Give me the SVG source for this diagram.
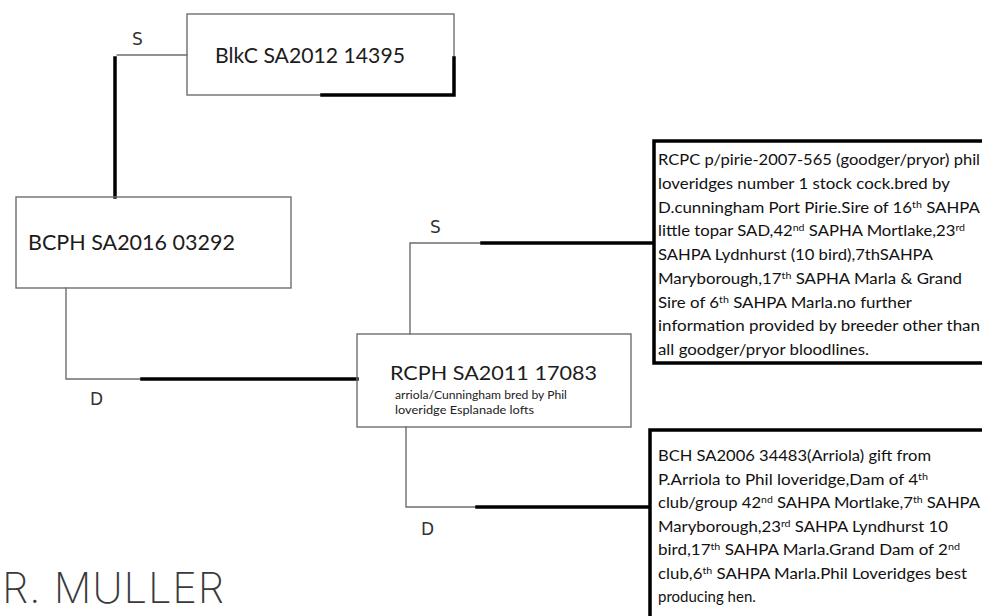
<svg xmlns="http://www.w3.org/2000/svg" width="982" height="616" viewBox="0 0 982 616">
<style>
.pen{fill:none;stroke:#6e6e6e;stroke-width:1.4;stroke-linecap:round}
.thick{fill:none;stroke:#000;stroke-width:3.5;stroke-linecap:square}
.bold-box{fill:#fff;stroke:#000;stroke-width:3.5}
.name{font-family:Lato,"Liberation Sans",sans-serif;fill:#1c1c1c}
.body{font-family:Lato,"Liberation Sans",sans-serif;font-size:15px;fill:#111}
.small{font-family:Lato,"Liberation Sans",sans-serif;font-size:11px;fill:#222}
.hand{font-family:"DejaVu Sans","Liberation Sans",sans-serif;font-size:17px;fill:#333}
.sig{font-family:Inter,Lato,"Liberation Sans",sans-serif;font-weight:200;font-size:42px;fill:#3a3a3a}
</style>
<rect width="982" height="616" fill="#fff"/>

<g id="connectors">
  <!-- Sire of BCPH -->
  <polyline class="pen" points="117,55 187,55"/>
  <line class="thick" x1="115" y1="58" x2="115" y2="197"/>
  <!-- Dam of BCPH -->
  <polyline class="pen" points="66,288 66,379 142,379"/>
  <line class="thick" x1="142" y1="379" x2="357" y2="379"/>
  <!-- Sire of RCPH -->
  <polyline class="pen" points="410,334 410,243 482,243"/>
  <line class="thick" x1="482" y1="243" x2="654" y2="243"/>
  <!-- Dam of RCPH -->
  <polyline class="pen" points="406,427 406,507 477,507"/>
  <line class="thick" x1="477" y1="507" x2="650" y2="507"/>
  <text class="hand" x="132" y="45">S</text>
  <text class="hand" x="90" y="405">D</text>
  <text class="hand" x="430" y="233">S</text>
  <text class="hand" x="421" y="535">D</text>
</g>

<g id="node-blkc">
  <rect class="pen" x="187" y="14" width="267" height="81"/>
  <polyline class="thick" points="322,95 454,95 454,58"/>
  <text class="name" x="215" y="63" font-size="20.5" textLength="190" lengthAdjust="spacingAndGlyphs">BlkC SA2012 14395</text>
</g>

<g id="node-bcph">
  <rect class="pen" x="16" y="197" width="275" height="91"/>
  <text class="name" x="28" y="250" font-size="22" textLength="207" lengthAdjust="spacingAndGlyphs">BCPH SA2016 03292</text>
</g>

<g id="node-rcph">
  <rect class="pen" x="357" y="334" width="274" height="93"/>
  <text class="name" x="390" y="380" font-size="20" textLength="207" lengthAdjust="spacingAndGlyphs">RCPH SA2011 17083</text>
  <text class="small" x="395" y="399" textLength="172" lengthAdjust="spacingAndGlyphs">arriola/Cunningham bred by Phil</text>
  <text class="small" x="395" y="414" textLength="139" lengthAdjust="spacingAndGlyphs">loveridge Esplanade lofts</text>
</g>

<g id="node-sire-rcpc">
  <rect class="bold-box" x="654" y="141" width="340" height="222"/>
  <text class="body" x="658" y="165" textLength="322" lengthAdjust="spacingAndGlyphs">RCPC p/pirie-2007-565 (goodger/pryor) phil</text>
  <text class="body" x="658" y="188.75" textLength="292" lengthAdjust="spacingAndGlyphs">loveridges number 1 stock cock.bred by</text>
  <text class="body" x="658" y="212.5" textLength="322" lengthAdjust="spacingAndGlyphs">D.cunningham Port Pirie.Sire of 16<tspan font-size="9.5" dy="-5">th</tspan><tspan dy="5"> SAHPA</tspan></text>
  <text class="body" x="658" y="236.25" textLength="307" lengthAdjust="spacingAndGlyphs">little topar SAD,42<tspan font-size="9.5" dy="-5">nd</tspan><tspan dy="5"> SAPHA Mortlake,23</tspan><tspan font-size="9.5" dy="-5">rd</tspan></text>
  <text class="body" x="658" y="260" textLength="275" lengthAdjust="spacingAndGlyphs">SAHPA Lydnhurst (10 bird),7thSAHPA</text>
  <text class="body" x="658" y="283.75" textLength="304" lengthAdjust="spacingAndGlyphs">Maryborough,17<tspan font-size="9.5" dy="-5">th</tspan><tspan dy="5"> SAPHA Marla &amp; Grand</tspan></text>
  <text class="body" x="658" y="307.5" textLength="254" lengthAdjust="spacingAndGlyphs">Sire of 6<tspan font-size="9.5" dy="-5">th</tspan><tspan dy="5"> SAHPA Marla.no further</tspan></text>
  <text class="body" x="658" y="331.25" textLength="322" lengthAdjust="spacingAndGlyphs">information provided by breeder other than</text>
  <text class="body" x="658" y="355" textLength="211" lengthAdjust="spacingAndGlyphs">all goodger/pryor bloodlines.</text>
</g>

<g id="node-dam-bch">
  <rect class="bold-box" x="650" y="430" width="344" height="200"/>
  <text class="body" x="658" y="461" textLength="273" lengthAdjust="spacingAndGlyphs">BCH SA2006 34483(Arriola) gift from</text>
  <text class="body" x="658" y="484.5" textLength="270" lengthAdjust="spacingAndGlyphs">P.Arriola to Phil loveridge,Dam of 4<tspan font-size="9.5" dy="-5">th</tspan></text>
  <text class="body" x="658" y="508" textLength="322" lengthAdjust="spacingAndGlyphs">club/group 42<tspan font-size="9.5" dy="-5">nd</tspan><tspan dy="5"> SAHPA Mortlake,7</tspan><tspan font-size="9.5" dy="-5">th</tspan><tspan dy="5"> SAHPA</tspan></text>
  <text class="body" x="658" y="531.5" textLength="290" lengthAdjust="spacingAndGlyphs">Maryborough,23<tspan font-size="9.5" dy="-5">rd</tspan><tspan dy="5"> SAHPA Lyndhurst 10</tspan></text>
  <text class="body" x="658" y="555" textLength="302" lengthAdjust="spacingAndGlyphs">bird,17<tspan font-size="9.5" dy="-5">th</tspan><tspan dy="5"> SAHPA Marla.Grand Dam of 2</tspan><tspan font-size="9.5" dy="-5">nd</tspan></text>
  <text class="body" x="658" y="578.5" textLength="309" lengthAdjust="spacingAndGlyphs">club,6<tspan font-size="9.5" dy="-5">th</tspan><tspan dy="5"> SAHPA Marla.Phil Loveridges best</tspan></text>
  <text class="body" x="658" y="602">producing hen.</text>
</g>

<text class="sig" x="2" y="603" textLength="222" lengthAdjust="spacing">R. MULLER</text>
</svg>
